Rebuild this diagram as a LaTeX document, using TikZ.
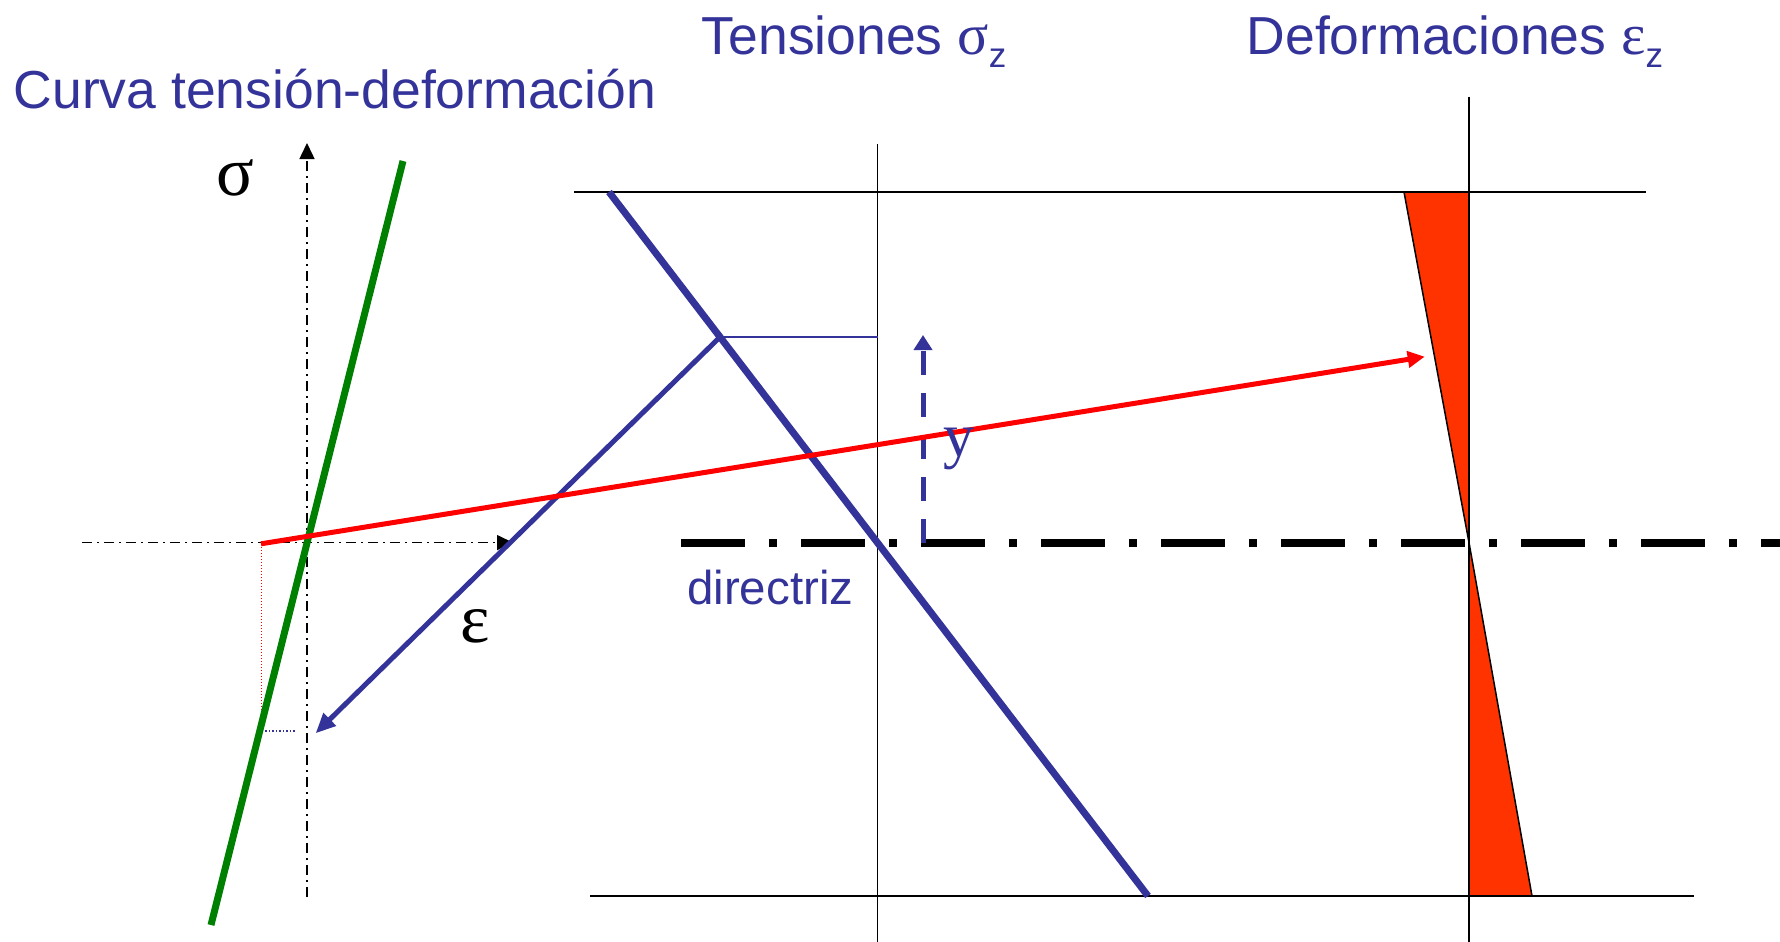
\documentclass[tikz,border=0pt]{standalone}
\usepackage{fontspec}
\setmainfont{Liberation Sans}
\newfontfamily\grserif{Liberation Serif}
\usetikzlibrary{arrows.meta}
\definecolor{dblue}{RGB}{51,51,153}
\definecolor{dgreen}{RGB}{0,128,0}
\definecolor{tri}{RGB}{255,51,0}
\tikzset{
  heading/.style={anchor=base west, inner sep=0pt, text=dblue, font=\fontsize{53.5}{60}\selectfont},
  greeklbl/.style={inner sep=0pt, font=\grserif\fontsize{70}{76}\selectfont},
  thinline/.style={line width=1.5pt, black},
  axisline/.style={line width=1.5pt, black, dash pattern=on 10pt off 5pt on 2pt off 5pt},
  axistip/.style={-{Triangle[length=16pt,width=15pt]}},
  directrizline/.style={line width=8pt, black, dash pattern=on 64pt off 24pt on 8pt off 24pt},
  tribox/.style={fill=tri, draw=black, line width=1.5pt, line join=miter},
}
\newcommand{\subz}{\raisebox{-13pt}{\fontsize{35}{38}\selectfont z}}
\begin{document}
\begin{tikzpicture}[x=1pt,y=-1pt]
\useasboundingbox (0,0) rectangle (1780,942);
% headings
\node[heading] (title) at (13.6,108) {Curva tensión-deformación};
\node[heading] (tens) at (701.6,54.5) {Tensiones {\grserif\fontsize{58}{60}\selectfont σ}\subz};
\node[heading] (defo) at (1246.5,54.5) {Deformaciones {\grserif\fontsize{58}{60}\selectfont ε}\subz};

% coordinates
\coordinate (vaxB) at (307,897);
\coordinate (vaxT) at (307,143);
\coordinate (haxL) at (82,542.6);
\coordinate (haxR) at (513,542.6);
\coordinate (gT) at (403,161);
\coordinate (gB) at (211,925);
\coordinate (rS) at (261,543.8);
\coordinate (rE) at (1424.7,356.7);
\coordinate (rD) at (261,720);
\coordinate (bdL) at (265,731);
\coordinate (bdR) at (295,731);
\coordinate (P) at (720,337);
\coordinate (bA) at (315.6,733.3);
\coordinate (hT) at (877.5,337);
\coordinate (tkT) at (609,192);
\coordinate (tkB) at (1148,896);
\coordinate (topL) at (574,192);
\coordinate (topR) at (1646,192);
\coordinate (botL) at (590,896);
\coordinate (botR) at (1694,896);
\coordinate (v1T) at (877.5,144);
\coordinate (v1B) at (877.5,942);
\coordinate (v2T) at (1469,96.5);
\coordinate (v2B) at (1469,942);
\coordinate (dL) at (681,542.6);
\coordinate (dR) at (1780,542.6);
\coordinate (yB) at (923,542.6);
\coordinate (yT) at (923,335);
\coordinate (tA) at (1404,192);
\coordinate (tB) at (1469,192);
\coordinate (tC) at (1469,542.6);
\coordinate (tD) at (1469,896);
\coordinate (tE) at (1532,896);

% strain triangles
\draw[tribox] (tA) -- (tB) -- (tC) -- cycle;
\draw[tribox] (tC) -- (tD) -- (tE) -- cycle;

% frame lines
\draw[thinline] (topL) -- (topR);
\draw[thinline] (botL) -- (botR);
\draw[thinline] (v1T) -- (v1B);
\draw[thinline] (v2T) -- (v2B);

% directriz
\draw[directrizline] (dL) -- (dR);

% axes of stress-strain curve
\draw[axisline, axistip] (vaxB) -- (vaxT);
\draw[axisline, axistip] (haxL) -- (haxR);

% helper dotted lines
\draw[red, line width=1pt, dotted] (rS) -- (rD);
\draw[dblue, line width=1.5pt, dotted] (bdL) -- (bdR);

% green curve
\draw[dgreen, line width=7pt] (gT) -- (gB);

% thick stress line
\draw[dblue, line width=7pt] (tkT) -- (tkB);

% thin blue horizontal
\draw[dblue, line width=1.5pt] (P) -- (hT);

% blue arrow
\draw[dblue, line width=5pt, -{Triangle[length=20pt,width=17pt]}] (P) -- (bA);

% dashed y arrow
\draw[dblue, line width=5pt, dash pattern=on 24pt off 18pt, -{Triangle[length=15pt,width=18pt]}] (yB) -- (yT);

% red arrow
\draw[red, line width=5pt, -{Triangle[length=17pt,width=16pt]}] (rS) -- (rE);

% labels
\node[greeklbl] (sig) at (235.5,178) {σ};
\node[greeklbl] (eps) at (475.5,626) {ε};
\node[anchor=base west, inner sep=0pt, text=dblue, font=\grserif\fontsize{62}{66}\selectfont] (ylbl) at (943,456) {y};
\node[anchor=base west, inner sep=0pt, text=dblue, font=\fontsize{47.5}{54}\selectfont] (dir) at (687,604) {directriz};
\end{tikzpicture}
\end{document}
